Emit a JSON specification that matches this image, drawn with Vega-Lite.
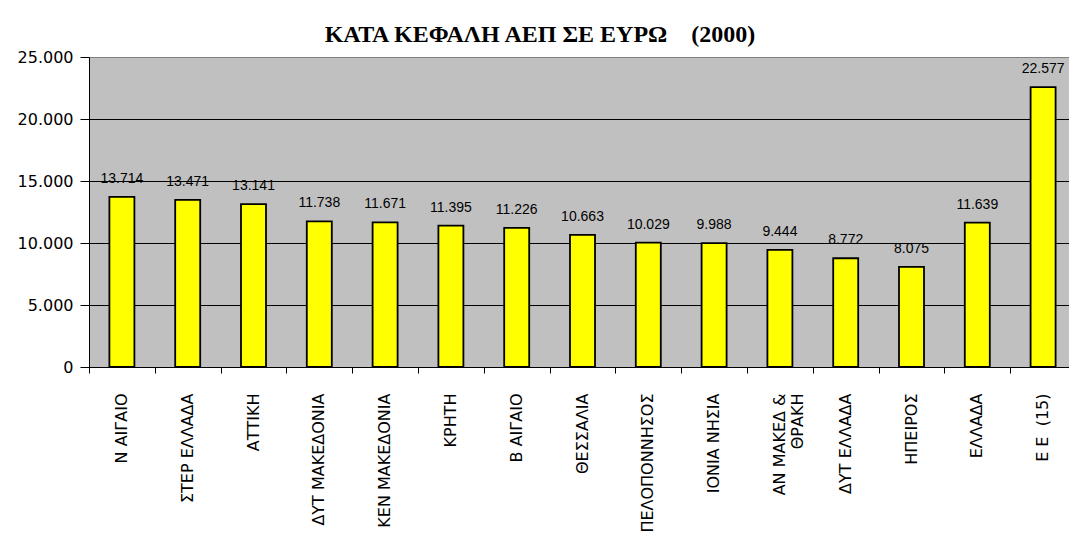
{
  "$schema": "https://vega.github.io/schema/vega-lite/v6.json",
  "autosize": {"type": "none"},
  "width": 980,
  "height": 310,
  "padding": {"left": 89, "top": 57, "right": 0, "bottom": 174},
  "background": "white",
  "config": {
    "locale": {"number": {"decimal": ",", "thousands": ".", "grouping": [3], "currency": ["", " €"]}},
    "view": {"fill": "#C0C0C0", "stroke": "#808080", "strokeWidth": 1}
  },
  "title": {
    "text": "ΚΑΤΑ ΚΕΦΑΛΗ ΑΕΠ ΣΕ ΕΥΡΩ\u00a0\u00a0\u00a0\u00a0(2000)",
    "font": "Liberation Serif, DejaVu Serif, serif",
    "fontSize": 24,
    "fontWeight": "bold",
    "color": "black",
    "anchor": "middle",
    "frame": "group",
    "baseline": "alphabetic",
    "offset": 6,
    "dx": -39,
    "dy": 23
  },
  "data": {
    "values": [
      {"region": "Ν ΑΙΓΑΙΟ", "gdp": 13714},
      {"region": "ΣΤΕΡ ΕΛΛΑΔΑ", "gdp": 13471},
      {"region": "ΑΤΤΙΚΗ", "gdp": 13141},
      {"region": "ΔΥΤ ΜΑΚΕΔΟΝΙΑ", "gdp": 11738},
      {"region": "ΚΕΝ ΜΑΚΕΔΟΝΙΑ", "gdp": 11671},
      {"region": "ΚΡΗΤΗ", "gdp": 11395},
      {"region": "Β ΑΙΓΑΙΟ", "gdp": 11226},
      {"region": "ΘΕΣΣΑΛΙΑ", "gdp": 10663},
      {"region": "ΠΕΛΟΠΟΝΝΗΣΟΣ", "gdp": 10029},
      {"region": "ΙΟΝΙΑ ΝΗΣΙΑ", "gdp": 9988},
      {"region": "ΑΝ ΜΑΚΕΔ &|ΘΡΑΚΗ", "gdp": 9444},
      {"region": "ΔΥΤ ΕΛΛΑΔΑ", "gdp": 8772},
      {"region": "ΗΠΕΙΡΟΣ", "gdp": 8075},
      {"region": "ΕΛΛΑΔΑ", "gdp": 11639},
      {"region": "Ε Ε\u00a0\u00a0(15)", "gdp": 22577}
    ]
  },
  "encoding": {
    "y": {
      "field": "gdp",
      "type": "quantitative",
      "scale": {"domain": [0, 25000], "nice": false, "zero": true},
      "axis": {
        "title": null,
        "values": [0, 5000, 10000, 15000, 20000, 25000],
        "format": ",d",
        "labelFont": "DejaVu Sans",
        "labelFontSize": 16,
        "labelColor": "black",
        "labelPadding": 7,
        "tickSize": 9,
        "tickColor": "black",
        "domainColor": "black",
        "grid": true,
        "gridColor": {"condition": {"test": "datum.value == 25000", "value": "#808080"}, "value": "black"},
        "gridOpacity": 1,
        "gridWidth": 1
      }
    }
  },
  "layer": [
    {
      "mark": {"type": "bar", "fill": "#FFFF00", "stroke": "black", "strokeWidth": 1.8},
      "encoding": {
        "x": {
          "field": "region",
          "type": "nominal",
          "sort": null,
          "scale": {"range": [0, 987], "paddingInner": 0.62, "paddingOuter": 0.31},
          "axis": {
            "orient": "bottom",
            "title": null,
            "labels": false,
            "ticks": true,
            "tickSize": 6,
            "tickColor": "black",
            "bandPosition": 0.5,
            "tickOffset": -32.9,
            "domain": true,
            "domainColor": "black",
            "grid": false
          }
        }
      }
    },
    {
      "mark": {"type": "text", "font": "Liberation Sans", "fontSize": 14, "color": "black", "baseline": "alphabetic", "dy": -14},
      "encoding": {
        "x": {
          "field": "region",
          "type": "nominal",
          "sort": null,
          "scale": {"range": [0, 987], "paddingInner": 0.62, "paddingOuter": 0.31},
          "axis": {
            "orient": "bottom",
            "title": null,
            "labels": true,
            "labelExpr": "split(datum.label, '|')",
            "labelAngle": 270,
            "labelAlign": "right",
            "labelBaseline": "middle",
            "labelFont": "DejaVu Sans",
            "labelFontSize": 16,
            "labelColor": "black",
            "labelLineHeight": 18,
            "labelPadding": 26,
            "labelLimit": 400,
            "labelOverlap": false,
            "ticks": false,
            "tickSize": 0,
            "domain": false,
            "grid": false
          }
        },
        "text": {"field": "gdp", "type": "quantitative", "format": ",d"}
      }
    }
  ],
  "resolve": {"axis": {"x": "independent"}}
}
